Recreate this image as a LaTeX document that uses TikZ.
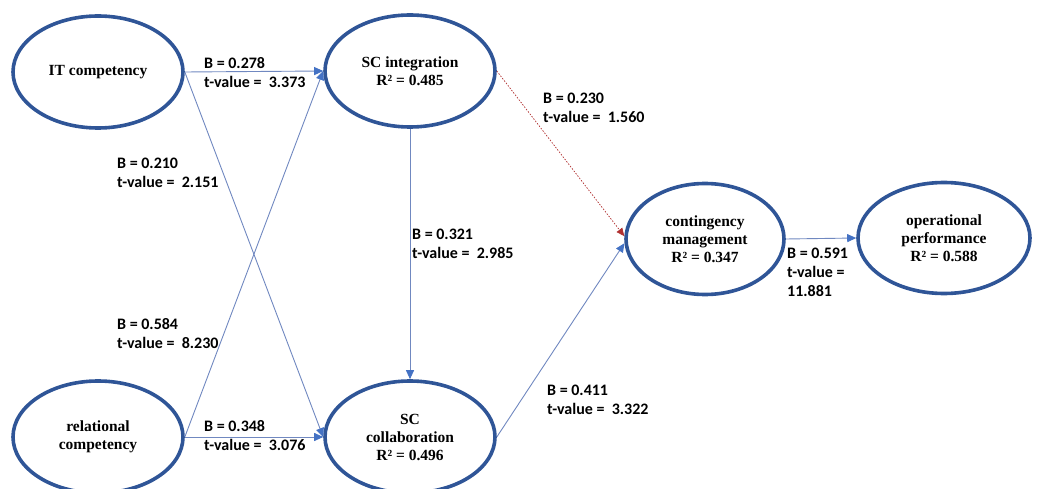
\documentclass[tikz,border=0pt]{standalone}
\usepackage{fontspec}
\setmainfont{Liberation Serif}
\newfontfamily\lblfont{Carlito}
\usetikzlibrary{shapes.geometric,arrows.meta}
\definecolor{ellblue}{HTML}{2F5597}
\definecolor{lineblue}{HTML}{7088C0}
\definecolor{tipblue}{HTML}{4472C4}
\definecolor{dashred}{HTML}{B03030}
\tikzset{
  construct/.style={ellipse, draw=ellblue, line width=3.6pt, minimum width=170pt, minimum height=112pt,
    inner sep=0pt, align=center, font=\fontsize{15.5}{18}\selectfont\bfseries},
  path/.style={draw=lineblue, line width=0.9pt, -{Triangle[length=9pt,width=8pt,fill=tipblue,color=tipblue]}},
  nspath/.style={draw=dashred, line width=0.7pt, dash pattern=on 1.5pt off 1.5pt, -{Triangle[length=8pt,width=7pt,fill=dashred,color=dashred]}},
  lbl/.style={anchor=west, inner sep=0pt, align=left, font=\lblfont\fontsize{16}{19}\selectfont\bfseries}
}
\begin{document}
\begin{tikzpicture}[x=1pt,y=-1pt]
\useasboundingbox (0,0) rectangle (1038,489);
\node[construct] (it)  at (98,72)  {IT competency};
\node[construct] (sci) at (410,71) {SC integration\\R² = 0.485};
\node[construct] (rel) at (98,437) {relational\\competency};
\node[construct] (scc) at (410,437) {SC\\collaboration\\R² = 0.496};
\node[construct, minimum width=158pt, minimum height=111pt] (cm) at (705,239) {contingency\\management\\R² = 0.347};
\node[construct, minimum width=172pt, minimum height=111pt] (op) at (944,238) {operational\\performance\\R² = 0.588};

\draw[path] (it.east) -- (sci.west);
\draw[path] (it.east) -- (scc.west);
\draw[path] (rel.east) -- (sci.west);
\draw[path] (rel.east) -- (scc.west);
\draw[path] (sci.south) -- (scc.north);
\draw[nspath] (sci.east) -- (cm.178);
\draw[path] (scc.east) -- (cm.183);
\draw[path] (cm.east) -- (op.west);

\node[lbl] (l1) at (204,72.5) {B = 0.278\\t-value =~~3.373};
\node[lbl] (l2) at (117,173) {B = 0.210\\t-value =~~2.151};
\node[lbl] (l3) at (412,244) {B = 0.321\\t-value =~~2.985};
\node[lbl] (l4) at (117,333.5) {B = 0.584\\t-value =~~8.230};
\node[lbl] (l5) at (204,436) {B = 0.348\\t-value =~~3.076};
\node[lbl] (l6) at (543,107.5) {B = 0.230\\t-value =~~1.560};
\node[lbl] (l7) at (547,400) {B = 0.411\\t-value =~~3.322};
\node[lbl] (l8) at (787,272) {B = 0.591\\t-value =\\11.881};
\end{tikzpicture}
\end{document}
